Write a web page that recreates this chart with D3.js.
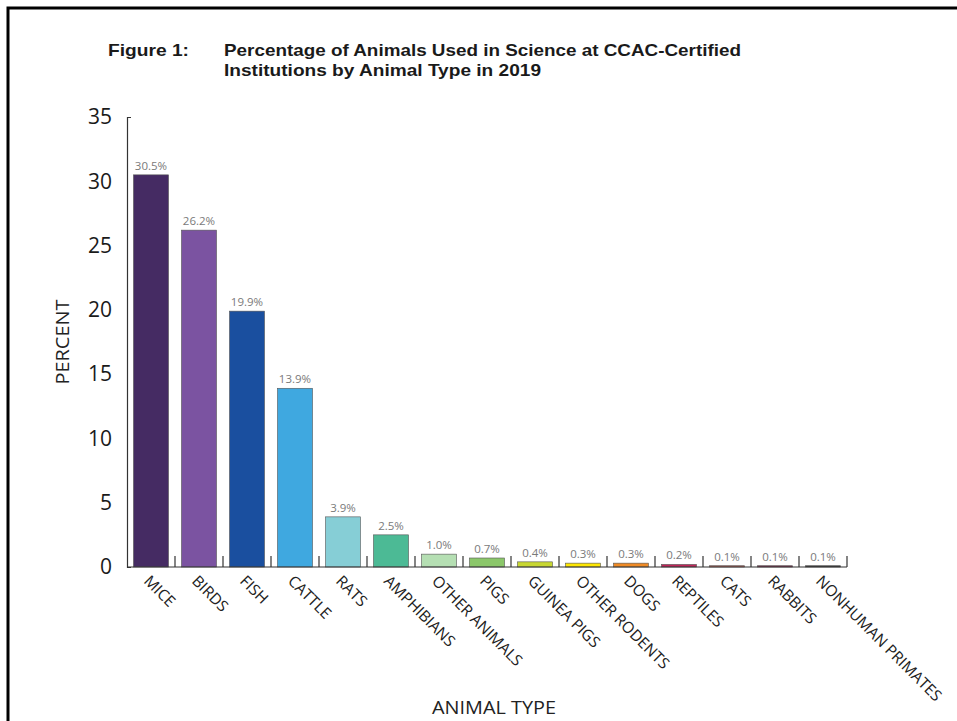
<!DOCTYPE html>
<html>
<head>
<meta charset="utf-8">
<script src="https://cdn.jsdelivr.net/npm/d3@7"></script>
<style>
  body { margin: 0; background: #fff; }
  svg text { font-family: "Open Sans", sans-serif; }
</style>
</head>
<body>
<div id="chart"></div>
<script>
// chart values
const animals = ["MICE", "BIRDS", "FISH", "CATTLE", "RATS", "AMPHIBIANS", "OTHER ANIMALS", "PIGS",
    "GUINEA PIGS", "OTHER RODENTS", "DOGS", "REPTILES", "CATS", "RABBITS", "NONHUMAN PRIMATES"];
const percents = [30.5, 26.2, 19.9, 13.9, 3.9, 2.5, 1.0, 0.7, 0.4, 0.3, 0.3, 0.2, 0.1, 0.1, 0.1];
const barColors = ["#452b63", "#7b53a1", "#1a4f9f", "#3fa8e0", "#86ced6", "#4cba95", "#b5dfb3", "#8bc76a",
    "#c8d732", "#fde602", "#ef8a25", "#c1265a", "#cf6a5e", "#8e2b52", "#3a3a3a"];
const yTicks = [0, 5, 10, 15, 20, 25, 30, 35];

const width = 957, height = 721;

const svg = d3.select("#chart").append("svg")
    .attr("width", width)
    .attr("height", height);

// frame (top and left edges only)
svg.append("path")
    .attr("d", "M8,721 L8,8 L957,8")
    .attr("fill", "none")
    .attr("stroke", "#000")
    .attr("stroke-width", 3);

// title - the source is a bit stretched sideways, so lengths are pinned
const titleFont = "Liberation Sans, Arial, sans-serif";
svg.append("text")
    .attr("x", 108).attr("y", 56)
    .style("font-family", titleFont)
    .attr("font-weight", "bold").attr("font-size", 16.5)
    .attr("fill", "#1a1a1a")
    .attr("textLength", 81).attr("lengthAdjust", "spacingAndGlyphs")
    .text("Figure 1:");

svg.append("text")
    .attr("x", 224).attr("y", 56)
    .style("font-family", titleFont)
    .attr("font-weight", "bold").attr("font-size", 16.5)
    .attr("fill", "#1a1a1a")
    .attr("textLength", 517).attr("lengthAdjust", "spacingAndGlyphs")
    .text("Percentage of Animals Used in Science at CCAC-Certified");

svg.append("text")
    .attr("x", 224).attr("y", 76)
    .style("font-family", titleFont)
    .attr("font-weight", "bold").attr("font-size", 16.5)
    .attr("fill", "#1a1a1a")
    .attr("textLength", 317).attr("lengthAdjust", "spacingAndGlyphs")
    .text("Institutions by Animal Type in 2019");

// scales
const x = d3.scaleBand()
    .domain(animals)
    .range([127, 847])
    .paddingInner(0.27)
    .paddingOuter(0.135);

const y = d3.scaleLinear()
    .domain([0, 35])
    .range([567, 117]);

// bars
svg.selectAll(".bar")
    .data(animals)
    .enter().append("rect")
    .attr("class", "bar")
    .attr("x", d => x(d))
    .attr("y", (d, i) => y(percents[i]))
    .attr("width", x.bandwidth())
    .attr("height", (d, i) => y(0) - y(percents[i]))
    .attr("fill", (d, i) => barColors[i])
    .attr("stroke", "#555")
    .attr("stroke-width", 0.6);

// value labels
svg.selectAll(".val")
    .data(animals)
    .enter().append("text")
    .attr("class", "val")
    .attr("x", d => x(d) + x.bandwidth() / 2)
    .attr("y", (d, i) => y(percents[i]) - 5)
    .attr("text-anchor", "middle")
    .attr("font-size", 11.5)
    .attr("fill", "#7a7a7a")
    .text((d, i) => percents[i].toFixed(1) + "%");

// y axis
const yAxis = d3.axisLeft(y)
    .tickValues(yTicks)
    .tickSizeInner(0)
    .tickSizeOuter(-4)
    .tickPadding(15);

const yG = svg.append("g")
    .attr("transform", "translate(127,0)")
    .call(yAxis);
yG.select(".domain").attr("stroke", "#333").attr("stroke-width", 1.2);
yG.selectAll(".tick text")
    .attr("font-size", 21)
    .attr("fill", "#1a1a1a")
    .style("font-family", "Open Sans, sans-serif");

// x axis baseline with separator ticks between bars
svg.append("line")
    .attr("x1", 127).attr("x2", 847)
    .attr("y1", y(0)).attr("y2", y(0))
    .attr("stroke", "#333").attr("stroke-width", 1.2);

svg.selectAll(".sep")
    .data(animals)
    .enter().append("line")
    .attr("class", "sep")
    .attr("x1", d => x(d) + x.bandwidth() + x.step() * x.paddingInner() / 2)
    .attr("x2", d => x(d) + x.bandwidth() + x.step() * x.paddingInner() / 2)
    .attr("y1", y(0)).attr("y2", y(0) - 11)
    .attr("stroke", "#333").attr("stroke-width", 1.2);

// category labels, rotated
svg.selectAll(".cat")
    .data(animals)
    .enter().append("text")
    .attr("class", "cat")
    .attr("transform", d => "translate(" + (x(d) + x.bandwidth() / 2 - 8) + "," + (y(0) + 15) + ") rotate(45)")
    .attr("font-size", 15.5)
    .attr("fill", "#222")
    .text(d => d);

// axis titles
svg.append("text")
    .attr("transform", "translate(69,342) rotate(-90)")
    .attr("text-anchor", "middle")
    .attr("font-size", 18)
    .attr("fill", "#222")
    .attr("textLength", 85).attr("lengthAdjust", "spacingAndGlyphs")
    .text("PERCENT");

svg.append("text")
    .attr("x", 432).attr("y", 714)
    .attr("font-size", 18)
    .attr("fill", "#222")
    .attr("textLength", 124).attr("lengthAdjust", "spacingAndGlyphs")
    .text("ANIMAL TYPE");
</script>
</body>
</html>
